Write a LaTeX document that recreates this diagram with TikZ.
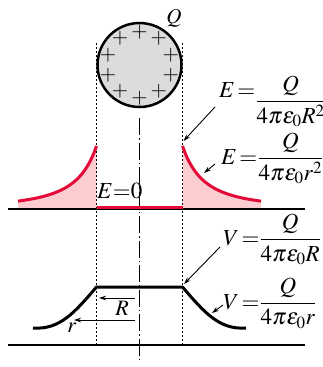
\documentclass[tikz,border=0pt]{standalone}
\usepackage{mathptmx}
\usetikzlibrary{arrows.meta,calc}
\definecolor{curvered}{RGB}{228,10,55}
\definecolor{fillpink}{RGB}{252,205,208}
\definecolor{spheregray}{RGB}{220,220,220}
\tikzset{
  lbl/.style={inner sep=0pt, font=\fontsize{23}{26}\selectfont},
  smalllbl/.style={inner sep=0pt, font=\fontsize{21}{24}\selectfont},
  midlbl/.style={inner sep=0pt, font=\fontsize{22}{25}\selectfont},
  guide/.style={line width=1pt, dash pattern=on 2pt off 2pt},
  centerline/.style={line width=0.9pt, dash pattern=on 17pt off 3pt on 1.5pt off 3pt},
  axisline/.style={line width=1.1pt},
  pointer/.style={line width=0.9pt, -{Stealth[length=7pt,width=4.5pt]}},
  ecurve/.style={curvered, line width=3pt},
  vcurve/.style={black, line width=3pt, line join=round},
}
\begin{document}
\begin{tikzpicture}[x=1pt,y=-1pt]
\useasboundingbox (0,0) rectangle (323,367);
% pink fills under E curves
\fill[fillpink] (18,209) -- plot[domain=18:96.5,samples=60] (\x,{209-63*(43/(139.5-\x))^2}) -- (96.5,209) -- cycle;
\fill[fillpink] (182.5,209) -- plot[domain=182.5:261,samples=60] (\x,{209-63*(43/(\x-139.5))^2}) -- (261,209) -- cycle;
% axes
\draw[axisline] (8,209) -- (305,209);
\draw[axisline] (8,345) -- (305,345);
% guides
\draw[guide] (96.5,43) -- (96.5,345);
\draw[guide] (182.5,43) -- (182.5,345);
\draw[centerline] (139.5,118) -- (139.5,362);
% sphere
\node[circle, draw, line width=2.5pt, fill=spheregray, minimum size=84pt, inner sep=0pt] (sphere) at (139.5,65) {};
\foreach \a in {90,126,162,198,234,270,306,342,18,54}{
  \node[smalllbl] (p\a) at ($(sphere.center)+(\a:33)$) {$+$};
}
\node[smalllbl] (qlabel) at (174,18) {$Q$};
% E curves
\draw[ecurve] plot[domain=18:96.5,samples=60] (\x,{209-63*(43/(139.5-\x))^2});
\draw[ecurve] plot[domain=182.5:261,samples=60] (\x,{209-63*(43/(\x-139.5))^2});
\draw[ecurve] (96.5,207) -- (182.5,207);
\node[lbl, anchor=base west] (ezero) at (97,198) {$E{=}0$};
% V curve
\draw[vcurve] (33,328) .. controls (60,330) and (75,312) .. (96.5,287) -- (182.5,287) .. controls (204,312) and (219,330) .. (246,328);
% formulas
\node[lbl, anchor=base west] (eR) at (219,107.5) {$\raisebox{10pt}{$E\,{=}$}\displaystyle\frac{Q}{4\pi\varepsilon_0R^2}$};
\node[lbl, anchor=base west] (er) at (221,164.5) {$E\,{=}\displaystyle\frac{Q}{4\pi\varepsilon_0r^2}$};
\node[lbl, anchor=base west] (VR) at (223,245.5) {$V\,{=}\displaystyle\frac{Q}{4\pi\varepsilon_0R}$};
\node[lbl, anchor=base west] (Vr) at (223,309) {$V\,{=}\displaystyle\frac{Q}{4\pi\varepsilon_0r}$};
% pointers
\coordinate (a1s) at (215,107); \coordinate (a1e) at (183.5,141);
\coordinate (a2s) at (215,164); \coordinate (a2e) at (204,173);
\coordinate (a3s) at (220,247); \coordinate (a3e) at (184,284);
\coordinate (a4s) at (223,305); \coordinate (a4e) at (212,313);
\draw[pointer] (a1s) -- (a1e);
\draw[pointer] (a2s) -- (a2e);
\draw[pointer] (a3s) -- (a3e);
\draw[pointer] (a4s) -- (a4e);
% radius arrows
\coordinate (rRs) at (135,298); \coordinate (rRe) at (99,298);
\coordinate (rrs) at (135,320); \coordinate (rre) at (74,320);
\draw[pointer] (rRs) -- (rRe);
\draw[pointer] (rrs) -- (rre);
\node[midlbl] (rbig) at (122,308) {$R$};
\node[midlbl] (rsmall) at (72,328) {$r$};
\end{tikzpicture}
\end{document}
